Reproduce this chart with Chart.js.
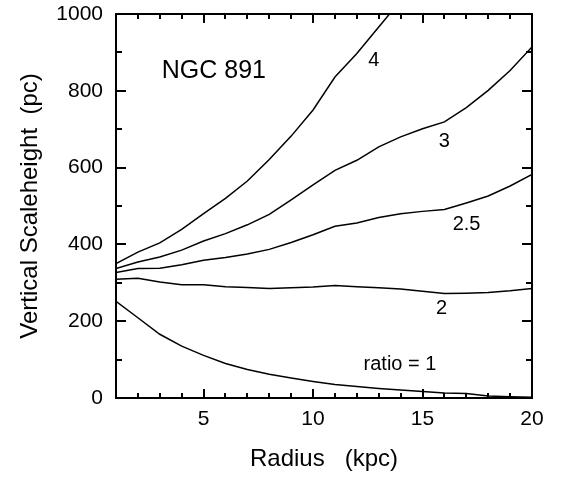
<!DOCTYPE html>
<html>
<head>
<meta charset="utf-8">
<script src="https://cdn.jsdelivr.net/npm/chart.js@4/dist/chart.umd.min.js"></script>
<style>
  body { margin: 0; background: #fff; }
</style>
</head>
<body>
<canvas id="scaleChart" width="567" height="477"></canvas>
<script>
// radius in kpc
const radius = [1, 2, 3, 4, 5, 6, 7, 8, 9, 10, 11, 12, 13, 14, 15, 16, 17, 18, 19, 20];

// vertical scaleheight (pc) for each ratio
const ratio1 = [252, 209, 166, 135, 111, 90, 74, 62, 52, 43, 35, 30, 25, 21, 17, 13, 12, 5, 3, 2];
const ratio2 = [309, 312, 302, 295, 295, 290, 288, 285, 287, 289, 293, 290, 287, 284, 278, 272, 273, 275, 279, 285];
const ratio25 = [327, 337, 338, 347, 359, 366, 375, 387, 405, 425, 447, 456, 470, 480, 486, 491, 508, 526, 552, 582];
const ratio3 = [337, 354, 367, 385, 409, 428, 451, 478, 516, 555, 593, 619, 654, 680, 701, 719, 756, 801, 853, 914];
const ratio4 = [350, 380, 404, 439, 480, 520, 565, 621, 682, 750, 836, 897, 966, 1035];

const xTicks = [5, 10, 15, 20];
const yTicks = [0, 200, 400, 600, 800, 1000];

// text labels inside plot (data coords)
const curveLabels = [
  { text: "NGC 891", x: 5.47, y: 851, size: 25 },
  { text: "4", x: 12.78, y: 879, size: 20 },
  { text: "3", x: 15.99, y: 667, size: 20 },
  { text: "2.5", x: 17.01, y: 452, size: 20 },
  { text: "2", x: 15.87, y: 233, size: 20 },
  { text: "ratio = 1", x: 13.97, y: 87, size: 20 }
];

const FONT = "'Liberation Sans', Arial, sans-serif";
const AREA = { left: 116, top: 14, right: 532, bottom: 398 };

function toPoints(ys) {
  return ys.map((y, i) => ({ x: radius[i], y: y }));
}

function line(ys) {
  return {
    data: toPoints(ys),
    borderColor: "#000",
    borderWidth: 1.5,
    pointRadius: 0,
    fill: false,
    tension: 0
  };
}

// frame, inward ticks on all sides, and curve labels
const framePlugin = {
  id: "frame",
  afterDraw(chart) {
    const ctx = chart.ctx;
    const a = chart.chartArea;
    const xs = chart.scales.x;
    const ys = chart.scales.y;
    ctx.save();
    ctx.fillStyle = "#000";
    for (let v = 1; v <= 20; v++) {
      const px = Math.round(xs.getPixelForValue(v));
      const len = v % 5 === 0 ? 9 : 5;
      ctx.fillRect(px - 1, a.bottom - len, 2, len);
      ctx.fillRect(px - 1, a.top, 2, len);
    }
    for (let v = 0; v <= 1000; v += 100) {
      const py = Math.round(ys.getPixelForValue(v));
      const len = v % 200 === 0 ? 10 : 6;
      ctx.fillRect(a.left, py - 1, len, 2);
      ctx.fillRect(a.right - len, py - 1, len, 2);
    }
    ctx.strokeStyle = "#000";
    ctx.lineWidth = 2;
    ctx.strokeRect(a.left, a.top, a.right - a.left, a.bottom - a.top);

    ctx.textAlign = "center";
    ctx.textBaseline = "middle";
    curveLabels.forEach(l => {
      ctx.font = l.size + "px " + FONT;
      ctx.fillText(l.text, xs.getPixelForValue(l.x), ys.getPixelForValue(l.y));
    });
    ctx.restore();
  }
};

const chart = new Chart(document.getElementById("scaleChart"), {
  type: "line",
  data: {
    datasets: [line(ratio1), line(ratio2), line(ratio25), line(ratio3), line(ratio4)]
  },
  options: {
    responsive: false,
    animation: false,
    layout: { padding: { top: AREA.top, right: 567 - AREA.right, left: 0, bottom: 0 } },
    plugins: {
      legend: { display: false },
      tooltip: { enabled: false }
    },
    scales: {
      x: {
        type: "linear",
        min: 1,
        max: 20,
        grid: { display: false, drawTicks: false },
        border: { display: false },
        afterBuildTicks: s => { s.ticks = xTicks.map(v => ({ value: v })); },
        afterFit: s => {
          s.height = 477 - AREA.bottom;
          s.paddingLeft = 0;
          s.paddingRight = 0;
        },
        ticks: {
          color: "#000",
          padding: 9,
          maxRotation: 0,
          callback: v => String(v),
          font: { family: FONT, size: 21 }
        },
        title: {
          display: true,
          text: "Radius   (kpc)",
          color: "#000",
          font: { family: FONT, size: 24 },
          padding: { top: 0, bottom: 3 }
        }
      },
      y: {
        min: 0,
        max: 1000,
        grid: { display: false, drawTicks: false },
        border: { display: false },
        afterBuildTicks: s => { s.ticks = yTicks.map(v => ({ value: v })); },
        afterFit: s => {
          s.width = AREA.left;
          s.paddingTop = 0;
          s.paddingBottom = 0;
        },
        ticks: {
          color: "#000",
          padding: 13,
          callback: v => String(v),
          font: { family: FONT, size: 21 }
        },
        title: {
          display: true,
          text: "Vertical Scaleheight  (pc)",
          color: "#000",
          font: { family: FONT, size: 24 },
          padding: { top: 16, bottom: 0 }
        }
      }
    }
  },
  plugins: [framePlugin]
});

// nudge the padding if the plot box ended up off target
const dTop = chart.chartArea.top - AREA.top;
if (Math.abs(dTop) > 0.5) {
  chart.options.layout.padding.top -= dTop;
  chart.update();
}
</script>
</body>
</html>
